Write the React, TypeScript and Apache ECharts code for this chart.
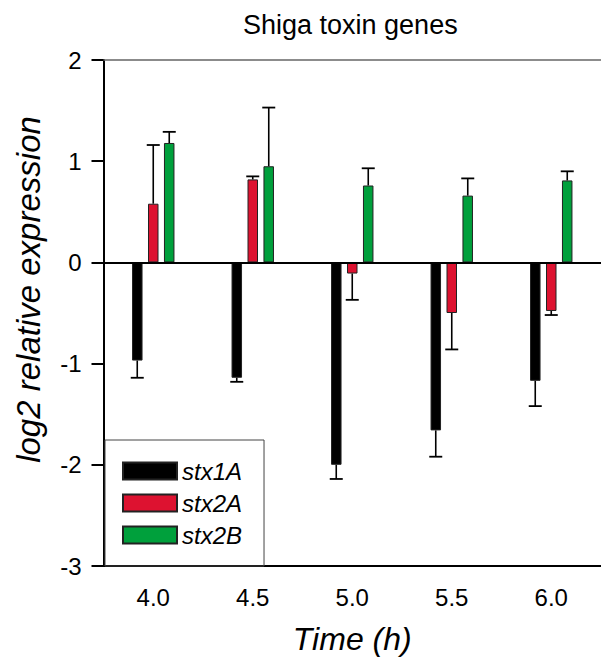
import React, { useEffect, useRef } from "react";
import * as echarts from "echarts";

const categories = ["4.0", "4.5", "5.0", "5.5", "6.0"];
const stx1A = [-0.97, -1.14, -2.0, -1.66, -1.17];
const stx1AErr = [0.17, 0.04, 0.14, 0.26, 0.25];
const stx2A = [0.58, 0.82, -0.11, -0.5, -0.48];
const stx2AErr = [0.58, 0.03, 0.26, 0.36, 0.04];
const stx2B = [1.18, 0.95, 0.76, 0.66, 0.81];
const stx2BErr = [0.11, 0.58, 0.17, 0.17, 0.09];
const seriesNames = ["stx1A", "stx2A", "stx2B"];
const colors = ["#000000", "#DD1230", "#00A03C"];

const FONT = "'Liberation Sans', Arial, sans-serif";

function errSeries(name: string, vals: number[], errs: number[], offset: number) {
  return {
    type: "custom",
    name: name + " error",
    z: 5,
    silent: true,
    encode: { x: 0, y: 1 },
    data: vals.map((v, i) => [i, v, errs[i]]),
    renderItem: (params: any, api: any) => {
      const idx = api.value(0);
      const v = api.value(1);
      const e = api.value(2);
      const sign = v < 0 ? -1 : 1;
      const p0 = api.coord([idx, v]);
      const p1 = api.coord([idx, v + sign * e]);
      const x = p0[0] + offset;
      return {
        type: "group",
        children: [
          { type: "line", shape: { x1: x, y1: p0[1], x2: x, y2: p1[1] }, style: { stroke: "#000", lineWidth: 1.6 } },
          { type: "line", shape: { x1: x - 6.5, y1: p1[1], x2: x + 6.5, y2: p1[1] }, style: { stroke: "#000", lineWidth: 1.8 } },
        ],
      };
    },
  };
}

export default function App() {
  const ref = useRef<HTMLDivElement>(null);
  useEffect(() => {
    document.body.style.margin = "0";
    const chart = echarts.init(ref.current!, null, { renderer: "svg" });
    const barBase = {
      type: "bar",
      barWidth: 10.5,
      barGap: "52%",
      itemStyle: { borderColor: "#222", borderWidth: 1 },
    };
    chart.setOption({
      animation: false,
      textStyle: { fontFamily: FONT },
      title: {
        text: "Shiga toxin genes",
        left: 243,
        top: 11,
        padding: 0,
        textStyle: { fontSize: 27, fontWeight: "normal", color: "#000", fontFamily: FONT },
      },
      legend: {
        data: seriesNames,
        orient: "vertical",
        left: 105,
        top: 440,
        itemWidth: 54,
        itemHeight: 17,
        itemGap: 8,
        itemTextGap: 14,
        padding: [19, 22, 19, 17],
        borderColor: "#444",
        borderWidth: 1,
        icon: "rect",
        textStyle: { fontSize: 24, fontStyle: "italic", color: "#000", fontFamily: FONT, lineHeight: 22 },
      },
      grid: { left: 103.5, top: 60, width: 506, height: 507 },
      xAxis: [
        {
          type: "category",
          data: categories,
          position: "bottom",
          axisLine: { onZero: false, lineStyle: { color: "#000", width: 2 } },
          axisTick: { alignWithLabel: true, length: 9, lineStyle: { color: "#000", width: 2 } },
          axisLabel: { fontSize: 24, color: "#000", margin: 19, fontFamily: FONT },
          name: "Time (h)",
          nameLocation: "middle",
          nameGap: 57,
          nameTextStyle: { fontSize: 32, fontStyle: "italic", color: "#000", fontFamily: FONT },
        },
        {
          type: "category",
          data: categories,
          position: "top",
          axisLine: { onZero: false, lineStyle: { color: "#666", width: 1.5 } },
          axisTick: { show: false },
          axisLabel: { show: false },
        },
      ],
      yAxis: {
        type: "value",
        min: -3,
        max: 2,
        interval: 1,
        axisLine: { show: true, lineStyle: { color: "#000", width: 2 } },
        axisTick: { show: true, length: 12, lineStyle: { color: "#000", width: 2 } },
        axisLabel: { fontSize: 24, color: "#000", margin: 22, fontFamily: FONT },
        splitLine: { show: false },
        name: "log2 relative expression",
        nameLocation: "middle",
        nameGap: 59,
        nameTextStyle: { fontSize: 33, fontStyle: "italic", color: "#000", fontFamily: FONT, padding: [0, 0, 0, 47] },
      },
      series: [
        {
          ...barBase,
          name: seriesNames[0],
          data: stx1A,
          itemStyle: { ...barBase.itemStyle, color: colors[0] },
          markLine: {
            silent: true,
            symbol: "none",
            label: { show: false },
            lineStyle: { color: "#000", width: 2, type: "solid" },
            data: [{ yAxis: 0 }],
          },
        },
        { ...barBase, name: seriesNames[1], data: stx2A, itemStyle: { ...barBase.itemStyle, color: colors[1] } },
        { ...barBase, name: seriesNames[2], data: stx2B, itemStyle: { ...barBase.itemStyle, color: colors[2] } },
        errSeries(seriesNames[0], stx1A, stx1AErr, -16),
        errSeries(seriesNames[1], stx2A, stx2AErr, 0),
        errSeries(seriesNames[2], stx2B, stx2BErr, 16),
      ],
    });
    return () => chart.dispose();
  }, []);
  return <div ref={ref} style={{ width: 601, height: 660 }} />;
}
